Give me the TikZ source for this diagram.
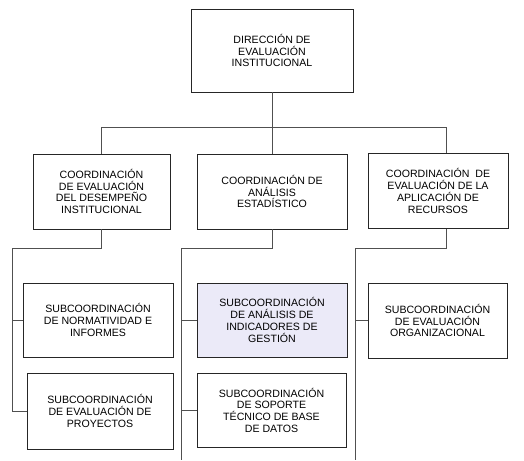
\documentclass[tikz,border=0pt]{standalone}
\usepackage{fontspec}
\setmainfont{Liberation Sans}
\definecolor{lavender}{RGB}{235,234,248}
\definecolor{linegray}{RGB}{80,80,80}

\begin{document}
\begin{tikzpicture}[x=1pt,y=-1pt,
    unit/.style={draw=black!85, line width=0.7pt, fill=white, align=center,
        inner sep=0pt, minimum height=75pt,
        font=\fontsize{10.6}{11.7}\selectfont},
    conn/.style={draw=linegray, line width=0.6pt}]

    \useasboundingbox (0,0) rectangle (524,460);

    % direccion
    \node[unit, minimum width=162pt, minimum height=83pt] (dir) at (272,50.5)
        {DIRECCIÓN DE\\EVALUACIÓN\\INSTITUCIONAL};

    % coordinaciones
    \node[unit, minimum width=137pt] (cdes) at (101.5,191.5)
        {COORDINACIÓN\\DE EVALUACIÓN\\DEL DESEMPEÑO\\INSTITUCIONAL};
    \node[unit, minimum width=150pt] (cana) at (272,191.5)
        {COORDINACIÓN DE\\ANÁLISIS\\ESTADÍSTICO};
    \node[unit, minimum width=140pt] (capl) at (438,191)
        {COORDINACIÓN~ DE\\EVALUACIÓN DE LA\\APLICACIÓN DE\\RECURSOS};

    % subcoordinaciones
    \node[unit, minimum width=150pt, minimum height=74pt] (snorm) at (98,320)
        {SUBCOORDINACIÓN\\DE NORMATIVIDAD E\\INFORMES};
    \node[unit, minimum width=146pt, minimum height=76pt] (sproy) at (100,411)
        {SUBCOORDINACIÓN\\DE EVALUACIÓN DE\\PROYECTOS};
    \node[unit, fill=lavender, minimum width=150pt, minimum height=74pt] (sind) at (272,320)
        {SUBCOORDINACIÓN\\DE ANÁLISIS DE\\INDICADORES DE\\GESTIÓN};
    \node[unit, minimum width=149pt, minimum height=74pt] (ssop) at (271.5,410)
        {SUBCOORDINACIÓN\\DE SOPORTE\\TÉCNICO DE BASE\\DE DATOS};
    \node[unit, minimum width=139pt] (sorg) at (437.5,320.5)
        {SUBCOORDINACIÓN\\DE EVALUACIÓN\\ORGANIZACIONAL};

    % top level bus
    \coordinate (bus) at (272,127);
    \draw[conn] (dir.south) -- (bus);
    \draw[conn] (cdes.north) |- (bus);
    \draw[conn] ([xshift=8pt]capl.north) |- (bus);
    \draw[conn] (cana.north) -- (bus);

    % left branch
    \coordinate (lspine) at (12,248);
    \draw[conn] (cdes.south) |- (lspine) |- (sproy.west);
    \draw[conn] (lspine |- snorm.west) -- (snorm.west);

    % middle branch
    \coordinate (mspine) at (181,248);
    \coordinate (mend) at (181,460);
    \draw[conn] (cana.south) |- (mspine) -- (mend);
    \draw[conn] (mspine |- sind.west) -- (sind.west);
    \draw[conn] (mspine |- ssop.west) -- (ssop.west);

    % right branch
    \coordinate (rspine) at (355,248);
    \coordinate (rend) at (355,460);
    \draw[conn] ([xshift=8pt]capl.south) |- (rspine) -- (rend);
    \draw[conn] (rspine |- sorg.west) -- (sorg.west);

\end{tikzpicture}
\end{document}
